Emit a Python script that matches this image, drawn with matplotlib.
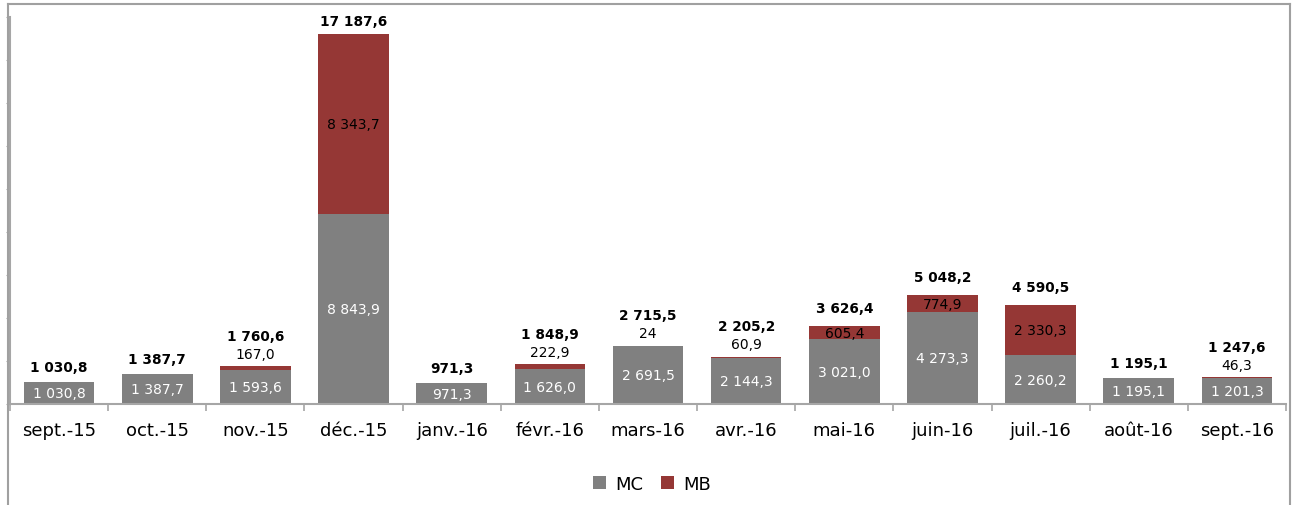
import numpy as np
import matplotlib
matplotlib.use('Agg')
import matplotlib.pyplot as plt
from matplotlib.lines import Line2D

# Data
months = ['sept.-15', 'oct.-15', 'nov.-15', 'déc.-15', 'janv.-16', 'févr.-16', 'mars-16',
          'avr.-16', 'mai-16', 'juin-16', 'juil.-16', 'août-16', 'sept.-16']
mc = [1030.8, 1387.7, 1593.6, 8843.9, 971.3, 1626.0, 2691.5,
      2144.3, 3021.0, 4273.3, 2260.2, 1195.1, 1201.3]
mb = [0, 0, 167.0, 8343.7, 0, 222.9, 24,
      60.9, 605.4, 774.9, 2330.3, 0, 46.3]
totals = [1030.8, 1387.7, 1760.6, 17187.6, 971.3, 1848.9, 2715.5,
          2205.2, 3626.4, 5048.2, 4590.5, 1195.1, 1247.6]
mb_labels = ['', '', '167,0', '8 343,7', '', '222,9', '24',
             '60,9', '605,4', '774,9', '2 330,3', '', '46,3']

GRAY = '#808080'
RED = '#953735'
AX = '#a6a6a6'


def fr(v):
    s = '{:,.1f}'.format(v)
    return s.replace(',', ' ').replace('.', ',')


W, H = 1296, 506
fig = plt.figure(figsize=(W / 100, H / 100), dpi=100)
ax = fig.add_axes([10 / W, (H - 405) / H, (1286 - 10) / W, (405 - 18) / H])

x = np.arange(len(months))
bw = 0.72
ax.bar(x, mc, bw, color=GRAY, label='MC', zorder=2)
ax.bar(x, mb, bw, bottom=mc, color=RED, label='MB', zorder=2)

ax.set_xlim(-0.5, len(months) - 0.5)
ax.set_ylim(0, 18000)

for i in range(len(months)):
    ax.text(x[i], mc[i] / 2, fr(mc[i]), ha='center', va='center',
            color='white', fontsize=10, zorder=3)
    top = mc[i] + mb[i]
    if mb_labels[i] == '':
        ax.annotate(fr(totals[i]), (x[i], top), xytext=(0, 11), textcoords='offset points',
                    ha='center', va='center', fontsize=9.8, fontweight='bold')
    elif mb[i] > 500:
        ax.text(x[i], mc[i] + mb[i] / 2, mb_labels[i], ha='center', va='center',
                color='black', fontsize=10, zorder=3)
        off = 10 if top > 15000 else 13
        ax.annotate(fr(totals[i]), (x[i], top), xytext=(0, off), textcoords='offset points',
                    ha='center', va='center', fontsize=9.8, fontweight='bold')
    else:
        ax.annotate(mb_labels[i], (x[i], top), xytext=(0, 9), textcoords='offset points',
                    ha='center', va='center', fontsize=10)
        ax.annotate(fr(totals[i]), (x[i], top), xytext=(0, 22), textcoords='offset points',
                    ha='center', va='center', fontsize=9.8, fontweight='bold')

# axes styling
for s in ['top', 'right']:
    ax.spines[s].set_visible(False)
ax.spines['left'].set_color(AX)
ax.spines['bottom'].set_color(AX)
ax.spines['left'].set_linewidth(1.5)
ax.spines['bottom'].set_linewidth(1.5)

ax.set_yticks(np.arange(0, 18001, 2000))
ax.tick_params(axis='y', length=3, color=AX, labelleft=False)
ax.set_xticks(np.arange(-0.5, len(months), 1.0))
ax.set_xticklabels([])
ax.tick_params(axis='x', which='major', length=5, color=AX, width=1.2)
ax.set_xticks(x, minor=True)
ax.set_xticklabels(months, minor=True, fontsize=13)
ax.tick_params(axis='x', which='minor', length=0, pad=12)

fig.legend(loc='center', bbox_to_anchor=(652 / W, 1 - 485 / H), ncol=2, frameon=False,
           fontsize=13, handlelength=0.7, handleheight=0.7, handletextpad=0.5,
           columnspacing=1.0)

# outer frame
fc = '#a0a0a0'
fig.add_artist(Line2D([7.5 / W, 7.5 / W], [0, 1 - 4.5 / H], transform=fig.transFigure, color=fc, lw=1.5))
fig.add_artist(Line2D([7.5 / W, 1289.5 / W], [1 - 4.5 / H, 1 - 4.5 / H], transform=fig.transFigure, color=fc, lw=1.5))
fig.add_artist(Line2D([1289.5 / W, 1289.5 / W], [0, 1 - 4.5 / H], transform=fig.transFigure, color=fc, lw=1.5))

fig.savefig('out.png', dpi=100)
